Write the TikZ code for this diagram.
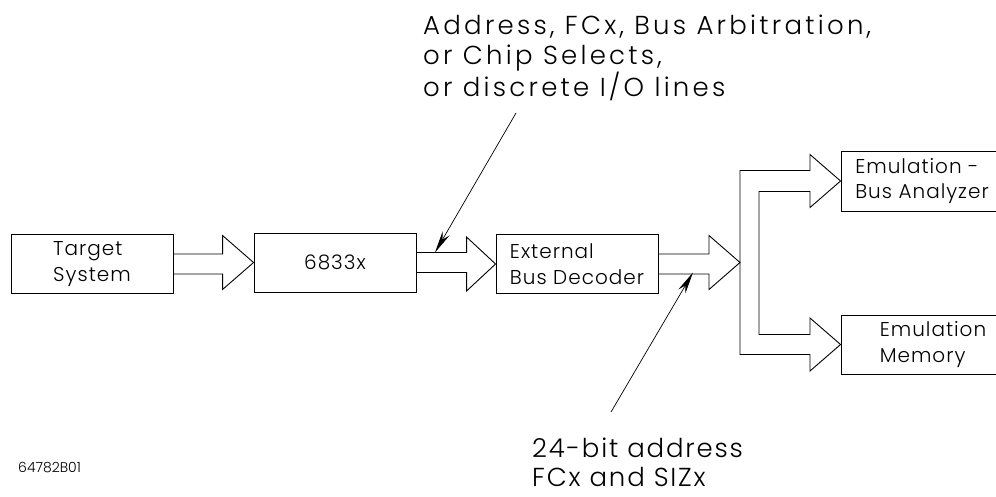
\documentclass[tikz,border=0pt]{standalone}
\usepackage{fontspec}
\setmainfont{Poppins}[UprightFont=* Light]
\usetikzlibrary{calc,arrows.meta}
\begin{document}
\begin{tikzpicture}[x=1pt,y=-1pt, line join=miter,
  box/.style={draw, line width=0.9pt, inner sep=0pt, minimum width=162pt,
    minimum height=59pt, align=left,
    font=\fontsize{20}{25.5}\selectfont\addfontfeature{LetterSpace=5}},
  bus/.style={draw, line width=0.9pt},
  note/.style={align=left, anchor=north west, inner sep=0pt,
    font=\fontsize{26}{30}\selectfont\addfontfeature{LetterSpace=12.5}},
  pointer/.style={line width=0.7pt, -{Stealth[length=22pt,width=8pt]}}]
\useasboundingbox (0,0) rectangle (996,496);

% boxes
\node[box] (ts)  at (92,264)  {Target\\System};
\node[box] (cpu) at (335,262.5) {6833x};
\node[box] (ebd) at (577,264) {External\\Bus Decoder};
\node[box, minimum height=60pt] (em1) at (922,181) {Emulation -\\Bus Analyzer};
\node[box] (em2) at (922,344.5) {\hspace*{22pt}Emulation\\\hspace*{22pt}Memory};
\coordinate (br) at (740,262.5);

% block arrows
\draw[bus] ($(ts.east)+(0,-10)$) -| ($(cpu.west)+(-31,-27)$) -- (cpu.west)
  -- ($(cpu.west)+(-31,27)$) |- ($(ts.east)+(0,10)$);
\draw[bus] ($(cpu.east)+(0,-10)$) -| ($(ebd.west)+(-29,-27)$) -- (ebd.west)
  -- ($(ebd.west)+(-29,27)$) |- ($(cpu.east)+(0,10)$);
\draw[bus] ($(ebd.east)+(0,-10)$) -| ($(br)+(-31,-27)$) -- (br)
  -- ($(br)+(-31,27)$) |- ($(ebd.east)+(0,10)$);

% branch
\draw[bus] (br) -- (740,170.5) -- (810,170.5) -- (810,154.5) -- (em1.west)
  -- (810,207.5) -- (810,191.5) -- (759,191.5) -- (759,334.5) -- (810,334.5)
  -- (810,318) -- (em2.west) -- (810,371) -- (810,354.5) -- (740,354.5) -- cycle;

% notes
\node[note] (n1) at (423,15) {Address, FCx, Bus Arbitration,\\or Chip Selects,\\or discrete I/O lines};
\node[note, font=\fontsize{26}{29}\selectfont\addfontfeature{LetterSpace=7}] (n2) at (532,438) {24-bit address\\FCx and SIZx};
\node[anchor=west, inner sep=0pt, font=\fontsize{14}{17}\selectfont] (id) at (18,467.5) {64782B01};

\coordinate (p1s) at (516,113);
\coordinate (p1e) at (435,252.5);
\coordinate (p2s) at (611,412);
\coordinate (p2e) at (693,272.5);
\draw[pointer] (p1s) -- (p1e);
\draw[pointer] (p2s) -- (p2e);
\end{tikzpicture}
\end{document}
